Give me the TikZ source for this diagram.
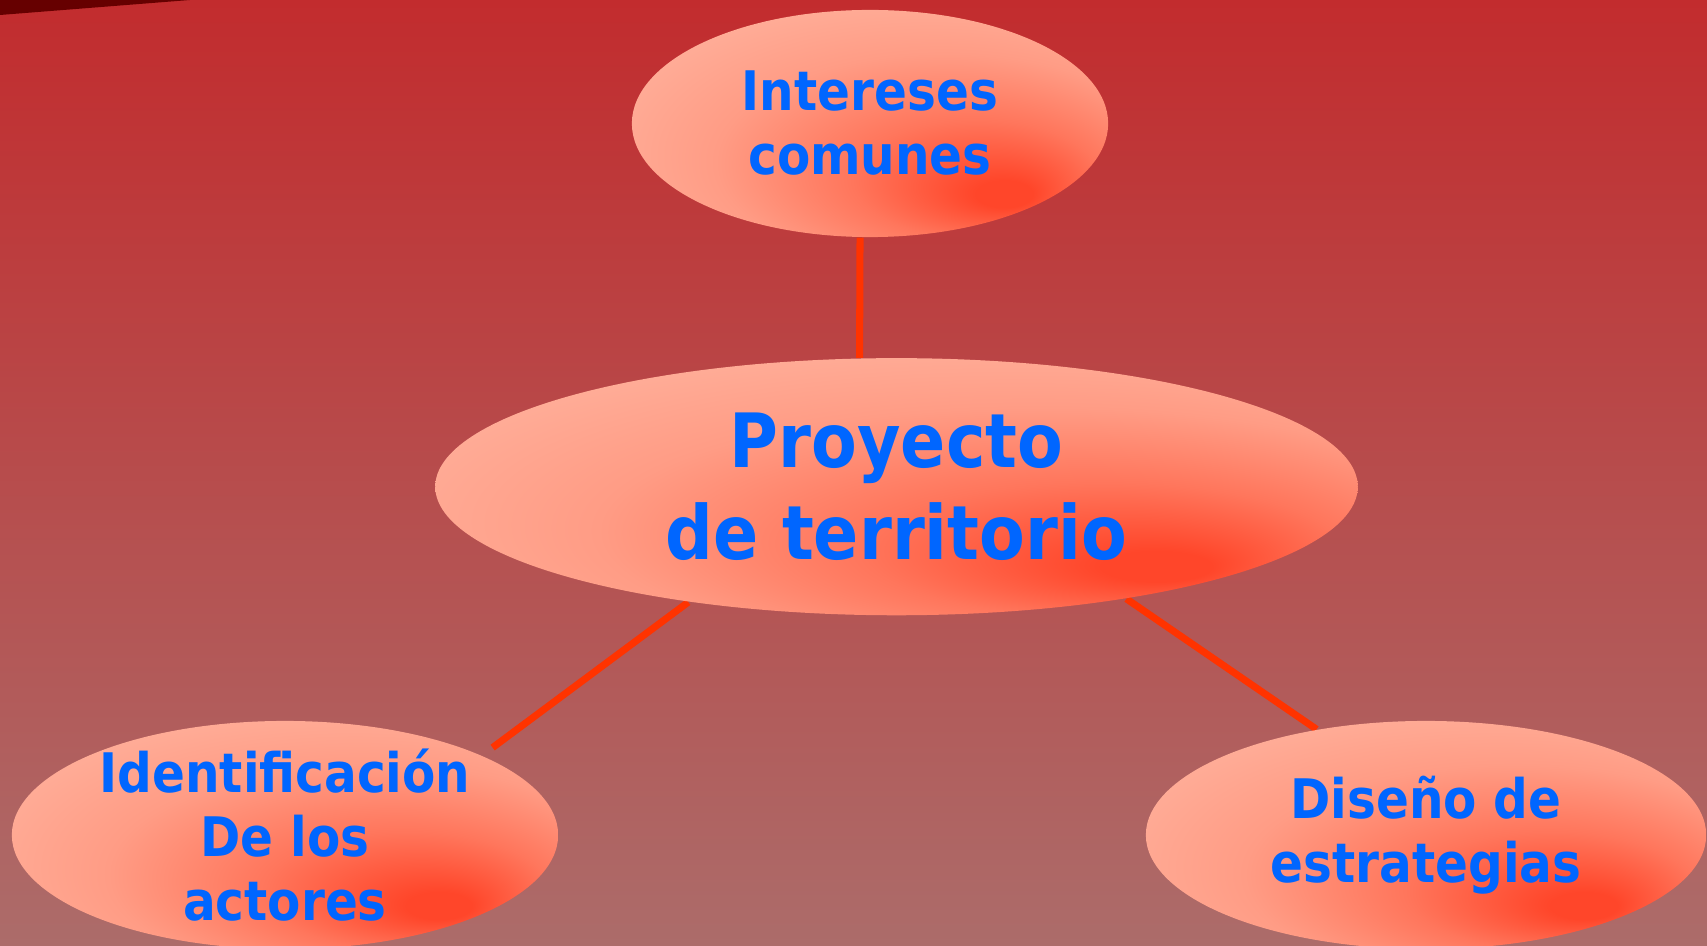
\documentclass[tikz,border=0pt]{standalone}
\usepackage{fontspec}
\newfontfamily\tahoma[FakeStretch=0.89]{DejaVu Sans}
\usetikzlibrary{shapes.geometric}

\definecolor{bgtop}{RGB}{194,44,46}
\definecolor{bgmid}{RGB}{185,84,84}
\definecolor{bgbot}{RGB}{172,108,106}
\definecolor{wedge}{RGB}{102,0,0}
\definecolor{hot}{RGB}{255,70,42}
\definecolor{warm}{RGB}{255,118,92}
\definecolor{pink}{RGB}{255,156,133}
\definecolor{salmon}{RGB}{255,174,153}
\definecolor{linkred}{RGB}{255,51,0}
\definecolor{txtblue}{RGB}{0,102,255}

\pgfdeclareradialshading{hotspot}{\pgfpoint{15bp}{-16.5bp}}{color(0bp)=(hot); color(3bp)=(hot); color(13bp)=(warm); color(24bp)=(pink); color(34bp)=(salmon); color(50bp)=(salmon)}

\pgfdeclarelayer{back}
\pgfdeclarelayer{mid}
\pgfsetlayers{back,mid,main}

\begin{document}
\begin{tikzpicture}[x=0.01cm,y=-0.01cm]
\tikzstyle{every node}+=[inner sep=0pt]
\tikzstyle{idea}=[ellipse,shading=hotspot]
\tikzstyle{lbl}=[text=txtblue,align=center,font=\tahoma\bfseries\fontsize{15.5}{18.2}\selectfont]
\tikzstyle{biglbl}=[text=txtblue,align=center,font=\tahoma\bfseries\fontsize{21.3}{25.9}\selectfont]
\tikzstyle{link}=[draw=linkred,line width=2pt]
\useasboundingbox (0,0) rectangle (1707,946);
\begin{pgfonlayer}{back}
\shade[top color=bgtop,middle color=bgmid,bottom color=bgbot] (0,0) rectangle (1707,946);
\fill[wedge] (0,0) -- (190,0) -- (0,15) -- cycle;
\end{pgfonlayer}
\node[idea,minimum width=4.76cm,minimum height=2.27cm] (inter) at (870,123.5) {};
\node[idea,minimum width=9.22cm,minimum height=2.57cm] (proj) at (896.5,486.7) {};
\node[idea,minimum width=5.46cm,minimum height=2.28cm] (ident) at (285,835) {};
\node[idea,minimum width=5.60cm,minimum height=2.28cm] (disen) at (1426,835) {};
\node[lbl] at (inter) {Intereses\\comunes};
\node[biglbl] at (proj) {Proyecto\\de territorio};
\node[lbl] at (ident) {Identificación\\De los\\actores};
\node[lbl] at (disen) {Diseño de\\estrategias};
\begin{pgfonlayer}{mid}
\draw[link] (proj.106) -- (inter.265);
\draw[link,shorten >=0.13cm] (proj.209) -- (ident.22);
\draw[link] (proj.334) -- (disen.136);
\end{pgfonlayer}
\end{tikzpicture}
\end{document}
